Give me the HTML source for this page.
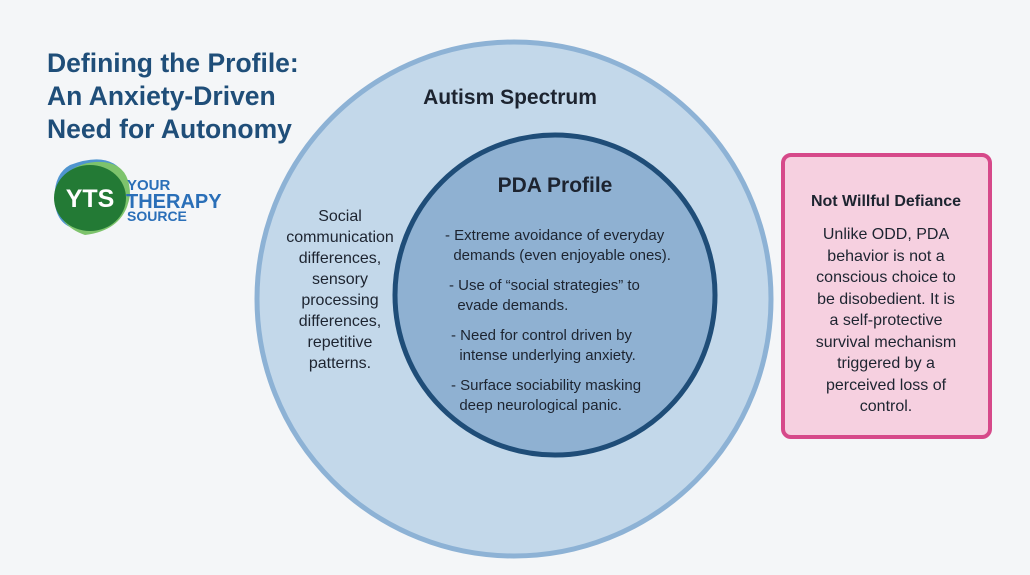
<!DOCTYPE html>
<html><head><style>
body{margin:0;width:1030px;height:575px;background:#f4f6f8;font-family:"Liberation Sans",sans-serif;position:relative;overflow:hidden}
.a{position:absolute}
.t{left:47px;top:47px;font-size:26.5px;font-weight:bold;color:#1f4e79;line-height:33px}
.c{text-align:center;color:#1d2430}
</style></head><body>
<svg class="a" style="left:0;top:0" width="1030" height="575">
<circle cx="514" cy="299" r="257" fill="#c3d8ea" stroke="#8db2d5" stroke-width="5"/>
<circle cx="555" cy="295" r="160" fill="#8fb1d2" stroke="#1f4d78" stroke-width="5"/>
<rect x="783" y="155" width="207" height="282" rx="8" fill="#f6d0e0" stroke="#d6498a" stroke-width="4"/>
<path d="M70 165 Q110 150 125 175 Q135 215 95 228 Q60 235 55 205 Q52 175 70 165Z" fill="#4f95cf"/>
<path d="M95 162 Q130 160 130 195 Q125 230 85 235 Q55 225 58 195 Q62 165 95 162Z" fill="#7dc36c"/>
<ellipse cx="90" cy="198" rx="36" ry="33" fill="#237a35"/>
<text x="90" y="207" font-family="Liberation Sans" font-weight="bold" font-size="25" fill="#fff" text-anchor="middle">YTS</text>
<text x="127" y="190" font-family="Liberation Sans" font-weight="bold" font-size="15" fill="#2a6fb8">YOUR</text>
<text x="126" y="208" font-family="Liberation Sans" font-weight="bold" font-size="20" fill="#2a6fb8">THERAPY</text>
<text x="127" y="221" font-family="Liberation Sans" font-weight="bold" font-size="14" fill="#2a6fb8">SOURCE</text>
</svg>
<div class="a t">Defining the Profile:<br>An Anxiety-Driven<br>Need for Autonomy</div>
<div class="a c" style="left:400px;top:86px;width:220px;font-size:21px;font-weight:bold">Autism Spectrum</div>
<div class="a c" style="left:280px;top:206px;width:120px;font-size:16px;line-height:21px">Social<br>communication<br>differences,<br>sensory<br>processing<br>differences,<br>repetitive<br>patterns.</div>
<div class="a c" style="left:440px;top:174px;width:230px;font-size:21px;font-weight:bold">PDA Profile</div>
<div class="a" style="left:445px;top:226px;width:250px;font-size:15px;line-height:20px;color:#1d2430">
<div>- Extreme avoidance of everyday<br>&nbsp;&nbsp;demands (even enjoyable ones).</div>
<div style="margin-top:10px;padding-left:4px">- Use of “social strategies” to<br>&nbsp;&nbsp;evade demands.</div>
<div style="margin-top:10px;padding-left:6px">- Need for control driven by<br>&nbsp;&nbsp;intense underlying anxiety.</div>
<div style="margin-top:10px;padding-left:6px">- Surface sociability masking<br>&nbsp;&nbsp;deep neurological panic.</div>
</div>
<div class="a c" style="left:786px;top:193px;width:200px;font-size:16px;font-weight:bold">Not Willful Defiance</div>
<div class="a c" style="left:786px;top:224px;width:200px;font-size:16px;line-height:21.5px">Unlike ODD, PDA<br>behavior is not a<br>conscious choice to<br>be disobedient. It is<br>a self-protective<br>survival mechanism<br>triggered by a<br>perceived loss of<br>control.</div>
</body></html>
